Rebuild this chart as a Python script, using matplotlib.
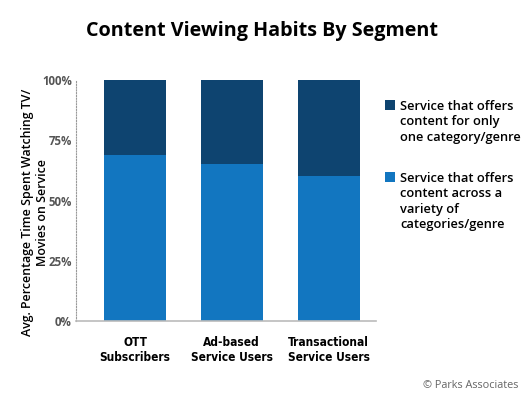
import matplotlib
matplotlib.use("Agg")
import matplotlib.pyplot as plt
from matplotlib.patches import Rectangle

categories = ["OTT\nSubscribers", "Ad-based\nService Users", "Transactional\nService Users"]
variety = [69, 65, 60]
single = [31, 35, 40]
yticks = [0, 25, 50, 75, 100]
ytick_labels = ["0%", "25%", "50%", "75%", "100%"]
label_single = "Service that offers\ncontent for only\none category/genre"
label_variety = "Service that offers\ncontent across a\nvariety of\ncategories/genre"

dark = "#0e4470"
light = "#1276c0"

plt.rcParams["font.family"] = ["Open Sans", "DejaVu Sans"]

fig = plt.figure(figsize=(5.25, 4.0), dpi=100)
ax = fig.add_axes([76/525, 1-321/400, 300/525, 241/400])

x = list(range(len(categories)))
b1 = ax.bar(x, variety, width=0.64, color=light, label=label_variety)
b2 = ax.bar(x, single, bottom=variety, width=0.64, color=dark, label=label_single)

ax.set_xlim(-0.61, 2.49)
ax.set_ylim(0, 100)
ax.set_yticks(yticks)
ax.set_yticklabels(ytick_labels, color="#555555", fontweight="bold", fontsize=8.3)
ax.set_xticks(x)
ax.set_xticklabels(categories, fontsize=8.6, fontweight="bold", family="DejaVu Sans",
                   fontstretch="condensed", linespacing=1.2)
ax.tick_params(axis="both", length=0)
ax.tick_params(axis="y", pad=3)
ax.tick_params(axis="x", pad=11)
for s in ["top", "right"]:
    ax.spines[s].set_visible(False)
ax.spines["left"].set_linestyle((0, (1, 1.5)))
ax.spines["left"].set_color("#999999")
ax.spines["left"].set_linewidth(0.8)
ax.spines["bottom"].set_color("#bbbbbb")
ax.spines["bottom"].set_linewidth(1.2)

fig.text(35/525, 1-212/400, "Avg. Percentage Time Spent Watching TV/\nMovies on Service",
         rotation=90, ha="center", va="center", fontsize=8.9, linespacing=1.25,
         fontweight="semibold", multialignment="center")

fig.text(262/525, 1-31/400, "Content Viewing Habits By Segment", ha="center", va="center",
         fontsize=14.2, fontweight="bold")

# manual legend (handle aligned with first text line, as in the reference)
legend_items = [(b2.patches[0].get_facecolor(), label_single, 106),
                (b1.patches[0].get_facecolor(), label_variety, 178)]
for color, text, ytop in legend_items:
    fig.patches.append(Rectangle((385/525, 1-(ytop+4)/400), 10/525, 10/400,
                                 transform=fig.transFigure, facecolor=color, edgecolor="none"))
    fig.text(400/525, 1-(ytop-6)/400, text, ha="left", va="top", fontsize=9.3,
             fontweight="semibold", linespacing=1.25)

fig.text(518/525, 1-386/400, "© Parks Associates", ha="right", va="center", fontsize=7.8, color="#666666")

fig.savefig("out.png", dpi=100)
